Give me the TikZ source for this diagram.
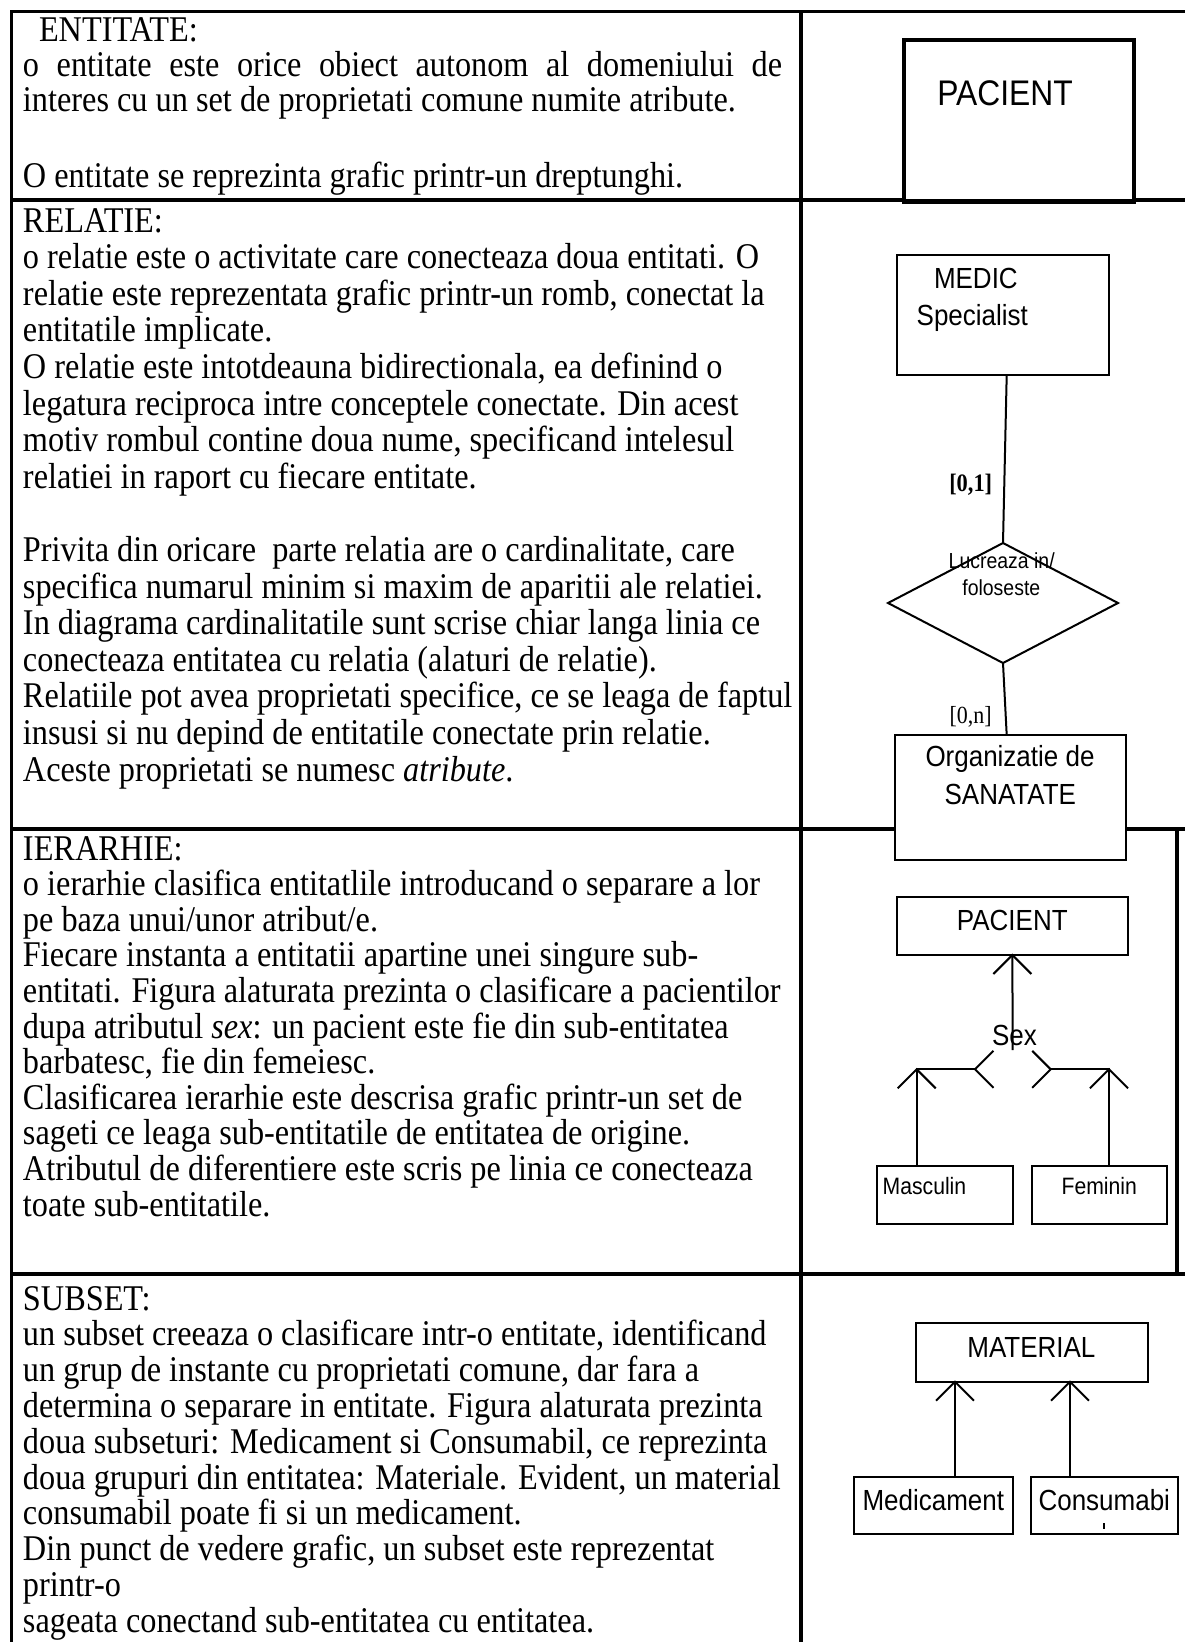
\documentclass[tikz,border=0pt]{standalone}
\usepackage{fontspec}
% glyphs are set slightly condensed (tall, narrow letterforms)
\setmainfont{Liberation Serif}[FakeStretch=0.892]
\newfontfamily\diagfont{Liberation Sans}[FakeStretch=0.893]
\usetikzlibrary{calc,shapes.geometric}

\tikzset{
  gridline/.style={line width=3.8pt, line cap=rect},
  body/.style={inner sep=0pt, outer sep=0pt, anchor=base west,
    font=\fontsize{36.2}{36}\selectfont},
  ebox/.style={draw, line width=2pt, fill=white, inner sep=0pt, outer sep=0pt},
  thickbox/.style={ebox, line width=4.5pt},
  dlabel/.style={inner sep=0pt, outer sep=0pt, anchor=base,
    font=\diagfont\fontsize{29.1}{33}\selectfont},
  smalllabel/.style={dlabel, font=\diagfont\fontsize{23.7}{27}\selectfont},
  rellabel/.style={dlabel, font=\diagfont\fontsize{21.8}{25}\selectfont},
  cardlabel/.style={inner sep=0pt, outer sep=0pt, anchor=base,
    font=\fontsize{24.6}{28}\selectfont},
  dline/.style={line width=2pt},
}

\begin{document}
\begin{tikzpicture}[x=1pt, y=-1pt]
  % page
  \useasboundingbox (0,0) rectangle (1185,1642);
  \fill[white] (0,0) rectangle (1185,1642);

  % table rules
  \draw[gridline] (11.5,11.5) -- (1185,11.5);
  \draw[gridline] (11.5,11.5) -- (11.5,1642);
  \draw[gridline] (800.7,11.5) -- (800.7,1640.7);
  \draw[gridline] (11.5,200) -- (1185,200);
  \draw[gridline] (11.5,829) -- (1185,829);
  \draw[gridline] (11.5,1274) -- (1185,1274);
  \draw[gridline] (1177.3,829) -- (1177.3,1274);

  % ---- ENTITATE text
  \node[body] (e-0) at (39,41) {ENTITATE:};
  \node[body] (e-1) at (23,76)
    {\makebox[759pt][s]{o entitate este orice obiect autonom al domeniului de}};
  \node[body] (e-2) at (23,111.5) {interes cu un set de proprietati comune numite atribute.};
  \node[body] (e-3) at (23,187) {O entitate se reprezinta grafic printr-un dreptunghi.};

  % ---- RELATIE text
  \foreach \ln [count=\k from 0] in {
    {RELATIE:},
    {o relatie este o activitate care conecteaza doua entitati. O},
    {relatie este reprezentata grafic printr-un romb, conectat la},
    {entitatile implicate.},
    {O relatie este intotdeauna bidirectionala, ea definind o},
    {legatura reciproca intre conceptele conectate. Din acest},
    {motiv rombul contine doua nume, specificand intelesul},
    {relatiei in raport cu fiecare entitate.},
    {},
    {Privita din oricare~ parte relatia are o cardinalitate, care},
    {specifica numarul minim si maxim de aparitii ale relatiei.},
    {In diagrama cardinalitatile sunt scrise chiar langa linia ce},
    {conecteaza entitatea cu relatia (alaturi de relatie).},
    {Relatiile pot avea proprietati specifice, ce se leaga de faptul},
    {insusi si nu depind de entitatile conectate prin relatie.},
    {Aceste proprietati se numesc \textit{atribute}.}}
    \node[body] (r-\k) at ({23},{232+\k*36.6}) {\ln};

  % ---- IERARHIE text
  \foreach \ln [count=\k from 0] in {
    {IERARHIE:},
    {o ierarhie clasifica entitatlile introducand o separare a lor},
    {pe baza unui/unor atribut/e.},
    {Fiecare instanta a entitatii apartine unei singure sub-},
    {entitati. Figura alaturata prezinta o clasificare a pacientilor},
    {dupa atributul \textit{sex}: un pacient este fie din sub-entitatea},
    {barbatesc, fie din femeiesc.},
    {Clasificarea ierarhie este descrisa grafic printr-un set de},
    {sageti ce leaga sub-entitatile de entitatea de origine.},
    {Atributul de diferentiere este scris pe linia ce conecteaza},
    {toate sub-entitatile.}}
    \node[body] (h-\k) at ({23},{860+\k*35.6}) {\ln};

  % ---- SUBSET text
  \foreach \ln [count=\k from 0] in {
    {SUBSET:},
    {un subset creeaza o clasificare intr-o entitate, identificand},
    {un grup de instante cu proprietati comune, dar fara a},
    {determina o separare in entitate. Figura alaturata prezinta},
    {doua subseturi: Medicament si Consumabil, ce reprezinta},
    {doua grupuri din entitatea: Materiale. Evident, un material},
    {consumabil poate fi si un medicament.},
    {Din punct de vedere grafic, un subset este reprezentat},
    {printr-o},
    {sageata conectand sub-entitatea cu entitatea.}}
    \node[body] (s-\k) at ({23},{1310+\k*35.8}) {\ln};

  % ---- entity example
  \node[thickbox, minimum width=230pt, minimum height=161.5pt] (pac1) at (1019,120.75) {};
  \node[dlabel, font=\diagfont\fontsize{35.6}{40}\selectfont] (pac1t) at (1005,105.6) {PACIENT};

  % ---- relationship example
  \node[ebox, minimum width=212.3pt, minimum height=120pt] (medic) at (1002.85,315) {};
  \node[dlabel, anchor=base west] (medA) at (934,288.3) {MEDIC};
  \node[dlabel, anchor=base west] (medB) at (916.7,325) {Specialist};
  \node[draw, diamond, line width=2pt, inner sep=0pt, outer sep=0pt,
        minimum width=230pt, minimum height=120pt] (rel) at (1003,603) {};
  \node[ebox, minimum width=231pt, minimum height=125pt] (org) at (1010.5,797.5) {};
  \draw[dline] ([xshift=3.85pt]medic.south) -- (rel.north);
  \draw[dline] (rel.south) -- ([xshift=-3.8pt]org.north);
  \node[cardlabel, font=\bfseries\fontsize{25.1}{28}\selectfont] (c01) at (970.7,491.5) {[0,1]};
  \node[rellabel] (relA) at (1001.7,568.3) {Lucreaza in/};
  \node[rellabel] (relB) at (1001.3,595) {foloseste};
  \node[cardlabel] (c0n) at (970.7,723.3) {[0,n]};
  \node[dlabel] (orgA) at (1010,766.7) {Organizatie de};
  \node[dlabel] (orgB) at (1010.3,804) {SANATATE};

  % ---- hierarchy example
  \node[ebox, minimum width=231.3pt, minimum height=58pt] (pac2) at (1012.35,926) {};
  \node[dlabel] (pac2t) at (1012.3,930.7) {PACIENT};
  \node[ebox, minimum width=135.4pt, minimum height=58.3pt] (masc) at (945,1194.85) {};
  \node[ebox, minimum width=135.6pt, minimum height=58.3pt] (fem) at (1099.5,1194.85) {};
  \node[smalllabel, anchor=base west] (masct) at (882.7,1194) {Masculin};
  \node[smalllabel] (femt) at (1099.2,1194) {Feminin};
  \coordinate (sexend) at (1012.7,1050);
  \coordinate (mc) at (916.7,1069.3);
  \coordinate (fc) at (1109,1069.3);
  \coordinate (hl) at (975,1069.3);
  \coordinate (hr) at (1050.7,1069.3);
  \draw[dline] (pac2.south) -- (sexend);
  \draw[dline] (masc.north -| mc) -- (mc) -- (hl);
  \draw[dline] (fem.north -| fc) -- (fc) -- (hr);
  \draw[dline] (pac2.south) +(-19,19) -- (pac2.south) -- +(19,19);
  \draw[dline] (mc) +(-19,19) -- (mc) -- +(19,19);
  \draw[dline] (fc) +(-19,19) -- (fc) -- +(19,19);
  \draw[dline] (hl) +(18.5,-18.5) -- (hl) -- +(18.5,18.5);
  \draw[dline] (hr) +(-18.5,-18.5) -- (hr) -- +(-18.5,18.5);
  \node[dlabel] (sext) at (1014.5,1045) {Sex};

  % ---- subset example
  \node[ebox, minimum width=231.7pt, minimum height=58.4pt] (mat) at (1031.85,1352.5) {};
  \node[dlabel] (matt) at (1031.4,1357.7) {MATERIAL};
  \node[ebox, minimum width=159.3pt, minimum height=57.3pt] (med) at (933.65,1505.35) {};
  \node[ebox, minimum width=146.7pt, minimum height=57.3pt] (cons) at (1104.35,1505.35) {};
  \node[dlabel] (medt) at (933.3,1510) {Medicament};
  \node[dlabel] (const) at (1104.3,1510) {Consumabi};
  \draw[line width=2.5pt] (1104,1523.3) -- (1104,1529.3);
  \coordinate (s1) at (955,1400);
  \coordinate (s2) at (1070,1400);
  \coordinate (t1) at (mat.south -| s1);
  \coordinate (t2) at (mat.south -| s2);
  \draw[dline] (med.north -| s1) -- (t1);
  \draw[dline] (cons.north -| s2) -- (t2);
  \draw[dline] (t1) +(-19,19) -- (t1) -- +(19,19);
  \draw[dline] (t2) +(-19,19) -- (t2) -- +(19,19);
\end{tikzpicture}
\end{document}
